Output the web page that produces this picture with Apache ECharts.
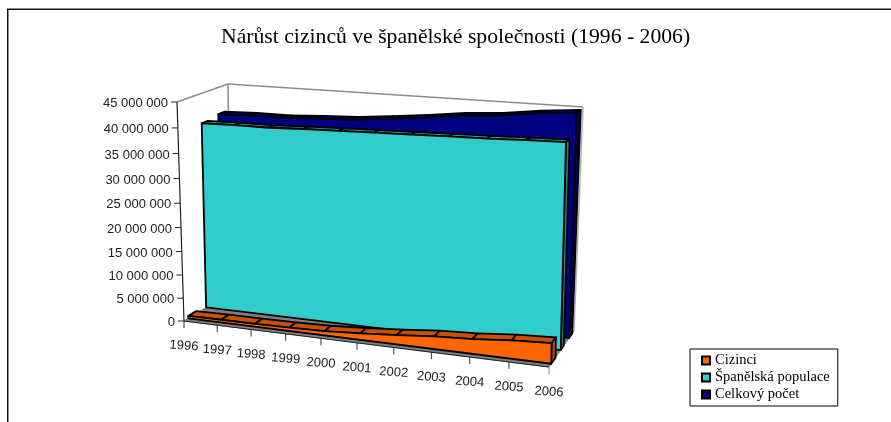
<!DOCTYPE html>
<html>
<head>
<meta charset="utf-8">
<style>html,body{margin:0;padding:0;background:#fff}#chart{width:891px;height:422px}</style>
<script src="https://cdn.jsdelivr.net/npm/echarts@6/dist/echarts.min.js"></script>
</head>
<body>
<div id="chart"></div>
<script>
// values
const years = ['1996','1997','1998','1999','2000','2001','2002','2003','2004','2005','2006'];
const cizinci = [542000,610000,637000,749000,924000,1371000,1978000,2664000,3034000,3731000,4144000];
const spanelska = [39130000,39240000,39210000,39450000,39580000,39750000,39860000,40050000,40170000,40380000,40560000];
const celkem = [39670000,39850000,39850000,40200000,40500000,41120000,41840000,42720000,43200000,44110000,44710000];
const yTicks = [0,5000000,10000000,15000000,20000000,25000000,30000000,35000000,40000000,45000000];
const yTickLabels = ['0','5 000 000','10 000 000','15 000 000','20 000 000','25 000 000','30 000 000','35 000 000','40 000 000','45 000 000'];

// corners of the projected 3D box (front/back, left/right, bottom/top)
const box = {
    flb: [184, 321], frb: [549, 367], blb: [231, 292], brb: [574, 331],
    flt: [177, 102], frt: [552, 127], blt: [228, 84],  brt: [583, 107]
};
const perspX = 0.901;
const perspY = 0.93;
const edge = 1.8;

function lerp(a, b, t) {
    return [a[0] + (b[0] - a[0]) * t, a[1] + (b[1] - a[1]) * t];
}

// pixel of the hidden grid -> projected pixel at depth d (0 front, 1 back)
function project(params, pt, d) {
    const cs = params.coordSys;
    let u = (pt[0] - cs.x) / cs.width;
    let v = (cs.y + cs.height - pt[1]) / cs.height;
    u = perspX * u / (1 + (perspX - 1) * u);
    v = perspY * v / (1 + (perspY - 1) * v);
    const bottom = lerp(lerp(box.flb, box.frb, u), lerp(box.blb, box.brb, u), d);
    const top = lerp(lerp(box.flt, box.frt, u), lerp(box.blt, box.brt, u), d);
    return lerp(bottom, top, v);
}

function poly(points, fill, stroke, width) {
    return {
        type: 'polygon',
        shape: { points: points },
        style: { fill: fill, stroke: stroke || '#000', lineWidth: width === undefined ? edge : width, lineJoin: 'round' }
    };
}

function line(a, b, color, width) {
    return {
        type: 'line',
        shape: { x1: a[0], y1: a[1], x2: b[0], y2: b[1] },
        style: { stroke: color, lineWidth: width }
    };
}

function areaRenderer(values, d0, d1, front, topCol, side) {
    return function (params, api) {
        if (params.dataIndex !== 0) return { type: 'group', children: [] };
        const last = values.length - 1;
        const p = (i, val, d) => project(params, api.coord([i, val]), d);
        const children = [];
        // top surface, one piece per year
        for (let i = 0; i < last; i++) {
            children.push(poly([p(i, values[i], d0), p(i + 1, values[i + 1], d0),
                p(i + 1, values[i + 1], d1), p(i, values[i], d1)], topCol));
        }
        // side at the last year
        children.push(poly([p(last, 0, d0), p(last, 0, d1), p(last, values[last], d1), p(last, values[last], d0)], side));
        // front face
        const pts = [p(0, 0, d0)];
        values.forEach((val, i) => pts.push(p(i, val, d0)));
        pts.push(p(last, 0, d0));
        children.push(poly(pts, front));
        return { type: 'group', children: children };
    };
}

function frameRenderer(params, api) {
    const p = (i, val, d) => project(params, api.coord([i, val]), d);
    const last = years.length - 1;
    const top = yTicks[yTicks.length - 1];
    const gray = '#8c8c8c';
    const children = [
        poly([p(0, 0, 0), p(last, 0, 0), p(last, 0, 1), p(0, 0, 1)], '#808080', '#808080', 1),
        line(p(0, top, 0), p(0, top, 1), gray, 1.5),
        line(p(0, top, 1), p(last, top, 1), gray, 1.5),
        line(p(0, top, 1), p(0, 0, 1), gray, 1.5),
        line(p(last, top, 1), p(last, 0, 1), '#b0b0b0', 1.5),
        line(p(0, 0, 0), p(last, 0, 0), '#222', 1.2),
        line(p(0, top, 0), p(0, 0, 0), '#222', 1.2)
    ];
    yTicks.forEach((val, i) => {
        const a = p(0, val, 0);
        children.push(line(a, [a[0] - 6, a[1]], '#222', 1));
        children.push({
            type: 'text',
            x: a[0] - 9, y: a[1] + 1.5,
            style: { text: yTickLabels[i], fill: '#222', font: '13px "Liberation Sans"', textAlign: 'right', textVerticalAlign: 'middle' }
        });
    });
    years.forEach((year, i) => {
        const a = p(i, 0, 0);
        children.push(line(a, [a[0], a[1] + 7], i === last ? gray : '#333', 1));
        children.push({
            type: 'text',
            x: a[0], y: a[1] + 25,
            rotation: -0.07,
            style: { text: year, fill: '#222', font: '13px "Liberation Sans"', textAlign: 'center', textVerticalAlign: 'middle' }
        });
    });
    return { type: 'group', children: children };
}

const chart = echarts.init(document.getElementById('chart'));
chart.setOption({
    animation: false,
    backgroundColor: '#fff',
    title: {
        text: 'Nárůst cizinců ve španělské společnosti (1996 - 2006)',
        left: 216,
        top: 21,
        textStyle: { fontFamily: 'Liberation Serif', fontSize: 21.7, fontWeight: 'normal', color: '#000' }
    },
    graphic: [
        { type: 'line', shape: { x1: 7, y1: 8.5, x2: 891, y2: 8.5 }, style: { stroke: '#8c8c8c', lineWidth: 1 } },
        { type: 'line', shape: { x1: 8.5, y1: 9, x2: 8.5, y2: 422 }, style: { stroke: '#8c8c8c', lineWidth: 1 } },
        { type: 'line', shape: { x1: 7, y1: 9.5, x2: 891, y2: 9.5 }, style: { stroke: '#111', lineWidth: 1 } },
        { type: 'line', shape: { x1: 7.5, y1: 9, x2: 7.5, y2: 422 }, style: { stroke: '#111', lineWidth: 1 } }
    ],
    legend: {
        orient: 'vertical',
        left: 690,
        top: 349,
        padding: [4, 8, 4, 11],
        itemGap: 2,
        itemWidth: 8,
        itemHeight: 8,
        icon: 'rect',
        borderColor: '#000',
        borderWidth: 1,
        selectedMode: false,
        data: ['Cizinci', 'Španělská populace', 'Celkový počet'],
        textStyle: { fontFamily: 'Liberation Serif', fontSize: 14.5, color: '#000', padding: [0, 0, 0, 0] }
    },
    grid: { left: 100, top: 100, width: 400, height: 200 },
    xAxis: { type: 'category', data: years, boundaryGap: false, show: false },
    yAxis: { type: 'value', min: 0, max: 45000000, interval: 5000000, show: false },
    tooltip: { show: false },
    series: [
        { type: 'custom', silent: true, data: [0], renderItem: frameRenderer },
        {
            type: 'custom', name: 'Celkový počet', silent: true,
            itemStyle: { color: '#000080', borderColor: '#000', borderWidth: 1 },
            data: celkem.map((v, i) => [i, v]),
            renderItem: areaRenderer(celkem, 0.8, 0.93, '#000080', '#000070', '#000060')
        },
        {
            type: 'custom', name: 'Španělská populace', silent: true,
            itemStyle: { color: '#33cccc', borderColor: '#000', borderWidth: 1 },
            data: spanelska.map((v, i) => [i, v]),
            renderItem: areaRenderer(spanelska, 0.47, 0.59, '#33cccc', '#2aa5a5', '#208585')
        },
        {
            type: 'custom', name: 'Cizinci', silent: true,
            itemStyle: { color: '#ff6600', borderColor: '#000', borderWidth: 1 },
            data: cizinci.map((v, i) => [i, v]),
            renderItem: areaRenderer(cizinci, 0.09, 0.26, '#ff6600', '#c85000', '#b84f00')
        }
    ]
});
</script>
</body>
</html>
